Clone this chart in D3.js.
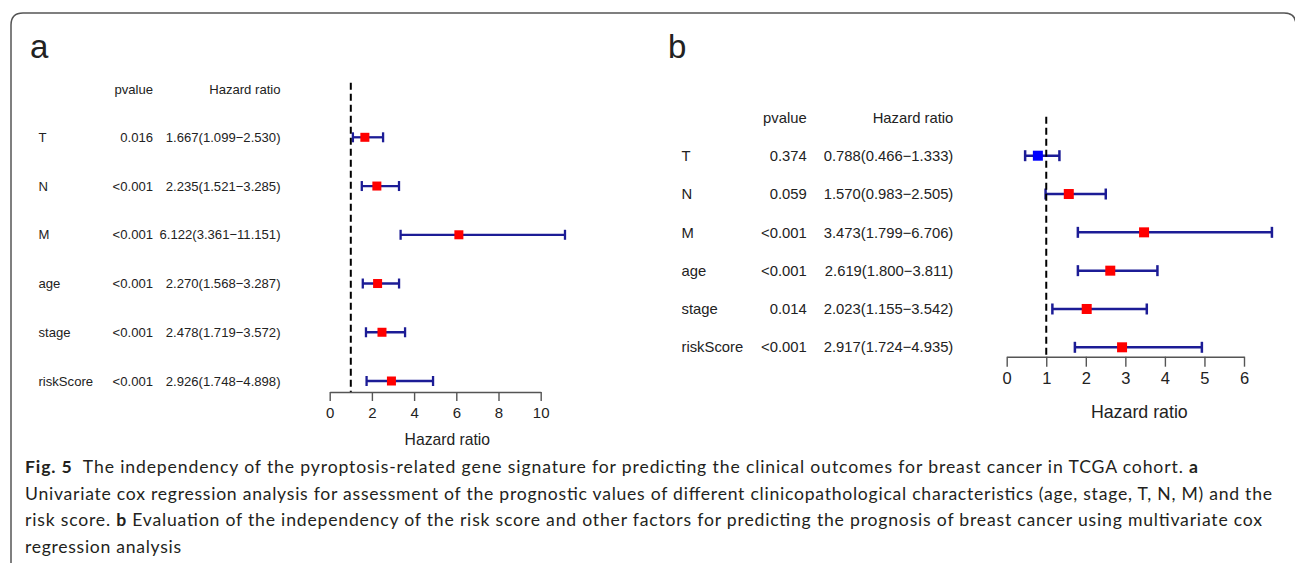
<!DOCTYPE html>
<html><head><meta charset="utf-8">
<script src="https://cdn.jsdelivr.net/npm/d3@7"></script>
<style>
html,body{margin:0;padding:0;background:#fff;}
svg{display:block;}
</style></head>
<body>
<svg id="chart" width="1295" height="563"></svg>
<script>
// ---- data ----
const categories = ["T", "N", "M", "age", "stage", "riskScore"];
const pvalA = ["0.016", "<0.001", "<0.001", "<0.001", "<0.001", "<0.001"];
const hrA   = [1.667, 2.235, 6.122, 2.270, 2.478, 2.926];
const lowA  = [1.099, 1.521, 3.361, 1.568, 1.719, 1.748];
const highA = [2.530, 3.285, 11.151, 3.287, 3.572, 4.898];
const pvalB = ["0.374", "0.059", "<0.001", "<0.001", "0.014", "<0.001"];
const hrB   = [0.788, 1.570, 3.473, 2.619, 2.023, 2.917];
const lowB  = [0.466, 0.983, 1.799, 1.800, 1.155, 1.724];
const highB = [1.333, 2.505, 6.706, 3.811, 3.542, 4.935];
const ticksA = [0, 2, 4, 6, 8, 10];
const ticksB = [0, 1, 2, 3, 4, 5, 6];
const refLine = 1;

const svg = d3.select("#chart");
const fmt = d3.format(".3f");

// frame
svg.append("path")
  .attr("d", "M11,563 V25 Q11,13 23,13 H1284 Q1296,13 1296,25 V563")
  .attr("fill", "none").attr("stroke", "#555").attr("stroke-width", 1.5);

function panel(cfg) {
  const g = svg.append("g");
  const x = d3.scaleLinear().domain([0, cfg.ticks[cfg.ticks.length - 1]]).range(cfg.xRange);
  const y = d3.scalePoint().domain(categories).range(cfg.yRange);
  const tc = "#222";
  const font = "'Liberation Sans', Arial, sans-serif";

  // panel letter
  g.append("text").attr("x", cfg.letterX).attr("y", 58).text(cfg.letter)
    .attr("font-family", font).attr("font-size", 33).attr("fill", tc);

  // headers
  g.append("text").attr("x", cfg.pX).attr("y", cfg.headerY).attr("dy", "0.35em")
    .attr("text-anchor", "end").text("pvalue")
    .attr("font-family", font).attr("font-size", cfg.fs).attr("fill", tc);
  g.append("text").attr("x", cfg.hrX).attr("y", cfg.headerY).attr("dy", "0.35em")
    .attr("text-anchor", "end").text("Hazard ratio")
    .attr("font-family", font).attr("font-size", cfg.fs).attr("fill", tc);

  const rows = categories.map((c, i) => ({c, p: cfg.pval[i], hr: cfg.hr[i], lo: cfg.low[i], hi: cfg.high[i]}));

  const rg = g.selectAll("g.row").data(rows).join("g").attr("class", "row");
  rg.append("text").attr("x", cfg.labelX).attr("y", d => y(d.c)).attr("dy", "0.35em")
    .text(d => d.c).attr("font-family", font).attr("font-size", cfg.fs).attr("fill", tc);
  rg.append("text").attr("x", cfg.pX).attr("y", d => y(d.c)).attr("dy", "0.35em")
    .attr("text-anchor", "end").text(d => d.p)
    .attr("font-family", font).attr("font-size", cfg.fs).attr("fill", tc);
  rg.append("text").attr("x", cfg.hrX).attr("y", d => y(d.c)).attr("dy", "0.35em")
    .attr("text-anchor", "end").text(d => `${fmt(d.hr)}(${fmt(d.lo)}\u2212${fmt(d.hi)})`)
    .attr("font-family", font).attr("font-size", cfg.fs).attr("fill", tc);

  // reference dashed line
  g.append("line").attr("x1", x(refLine)).attr("x2", x(refLine))
    .attr("y1", cfg.dashTop).attr("y2", cfg.axisY)
    .attr("stroke", "#000").attr("stroke-width", 2).attr("stroke-dasharray", "7,4");

  // error bars
  const navy = "#1c1c96";
  rg.append("line").attr("x1", d => x(d.lo)).attr("x2", d => x(d.hi))
    .attr("y1", d => y(d.c)).attr("y2", d => y(d.c))
    .attr("stroke", navy).attr("stroke-width", cfg.lw);
  rg.append("line").attr("x1", d => x(d.lo)).attr("x2", d => x(d.lo))
    .attr("y1", d => y(d.c) - cfg.cap / 2).attr("y2", d => y(d.c) + cfg.cap / 2)
    .attr("stroke", navy).attr("stroke-width", cfg.lw);
  rg.append("line").attr("x1", d => x(d.hi)).attr("x2", d => x(d.hi))
    .attr("y1", d => y(d.c) - cfg.cap / 2).attr("y2", d => y(d.c) + cfg.cap / 2)
    .attr("stroke", navy).attr("stroke-width", cfg.lw);
  rg.append("rect").attr("x", d => x(d.hr) - cfg.sq / 2).attr("y", d => y(d.c) - cfg.sq / 2)
    .attr("width", cfg.sq).attr("height", cfg.sq)
    .attr("fill", d => d.hr > refLine ? "#ff0000" : "#0000ff");

  // axis
  const ax = g.append("g").attr("transform", `translate(0,${cfg.axisY})`)
    .call(d3.axisBottom(x).tickValues(cfg.ticks).tickFormat(d3.format("d"))
      .tickSize(cfg.tickLen).tickSizeOuter(0).tickPadding(cfg.tickPad));
  ax.select(".domain").attr("stroke", "#555").attr("stroke-width", 1.4);
  ax.selectAll(".tick line").attr("stroke", "#555").attr("stroke-width", 1.4);
  ax.selectAll(".tick text").attr("font-family", font).attr("font-size", cfg.tickFs).attr("fill", tc);

  const maxHi = d3.max(cfg.high);
  g.append("text").attr("x", (x(0) + x(maxHi)) / 2).attr("y", cfg.titleY).attr("dy", "0.35em")
    .attr("text-anchor", "middle").text("Hazard ratio")
    .attr("font-family", font).attr("font-size", cfg.titleFs).attr("fill", tc);
}

panel({letter: "a", letterX: 30, pval: pvalA, hr: hrA, low: lowA, high: highA, ticks: ticksA,
  xRange: [329.7, 540.7], yRange: [137.3, 381], labelX: 38.5, pX: 153, hrX: 280.5, headerY: 89,
  fs: 13.1, axisY: 392, dashTop: 82.7, sq: 9, cap: 10, lw: 2.3, tickLen: 9, tickPad: 6.5,
  tickFs: 15, titleFs: 15.7, titleY: 440});
panel({letter: "b", letterX: 668, pval: pvalB, hr: hrB, low: lowB, high: highB, ticks: ticksB,
  xRange: [1006.7, 1244], yRange: [155.7, 347.3], labelX: 681.5, pX: 806.7, hrX: 953.3, headerY: 118.3,
  fs: 14.8, axisY: 356.7, dashTop: 116.7, sq: 10, cap: 11, lw: 2.5, tickLen: 10, tickPad: 5.5,
  tickFs: 16.5, titleFs: 17.8, titleY: 411.7});

// caption
const capFont = "Lato, 'Open Sans', sans-serif";
const capLines = [
  {y: 473, w: 1173, parts: [["Fig. 5", true], ["  The independency of the pyroptosis-related gene signature for predicting the clinical outcomes for breast cancer in TCGA cohort. ", false], ["a", true]]},
  {y: 499.5, w: 1247, parts: [["Univariate cox regression analysis for assessment of the prognostic values of different clinicopathological characteristics (age, stage, T, N, M) and the", false]]},
  {y: 526, w: 1237, parts: [["risk score. ", false], ["b", true], [" Evaluation of the independency of the risk score and other factors for predicting the prognosis of breast cancer using multivariate cox", false]]},
  {y: 552.5, w: 156, parts: [["regression analysis", false]]}
];
capLines.forEach(l => {
  const t = svg.append("text").attr("x", 25).attr("y", l.y)
    .attr("font-family", capFont).attr("font-size", 17.6).attr("fill", "#231f20")
    .attr("textLength", l.w).attr("lengthAdjust", "spacing")
    .style("white-space", "pre");
  l.parts.forEach(([s, b]) => t.append("tspan").text(s).attr("font-weight", b ? 700 : 400));
});
</script>
</body></html>
